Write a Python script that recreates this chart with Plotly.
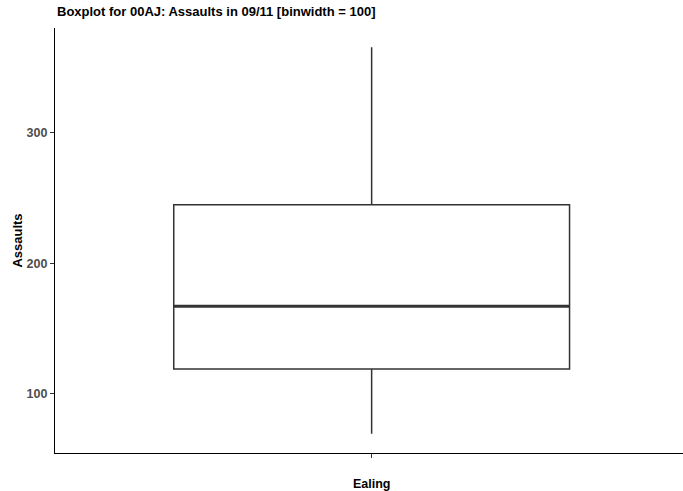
import plotly.graph_objects as go

categories = ["Ealing"]
lower_whisker = [69.5]
q1_values = [119.1]
median_values = [167.2]
q3_values = [245.0]
upper_whisker = [365.6]
y_tick_values = [100, 200, 300]

x_pos = [1]
box_width = 0.75

fig = go.Figure()
fig.add_trace(go.Box(
    x=x_pos,
    q1=q1_values, median=median_values, q3=q3_values,
    lowerfence=lower_whisker, upperfence=upper_whisker,
    width=box_width,
    fillcolor="white",
    line=dict(color="#333333", width=1.5),
    whiskerwidth=0,
    boxpoints=False,
    hoverinfo="skip",
    showlegend=False,
))
# thicker median line (ggplot fatten)
for xp, m in zip(x_pos, median_values):
    fig.add_trace(go.Scatter(
        x=[xp - box_width / 2, xp + box_width / 2], y=[m, m],
        mode="lines", line=dict(color="#333333", width=3),
        hoverinfo="skip", showlegend=False,
    ))

font_family = "Liberation Sans, Arial, sans-serif"
fig.update_layout(
    width=683, height=491,
    paper_bgcolor="white", plot_bgcolor="white",
    margin=dict(l=55, r=0, t=28, b=38, autoexpand=False),
    title=dict(text="<b>Boxplot for 00AJ: Assaults in 09/11 [binwidth = 100]</b>",
               x=57/683, xanchor="left", y=1 - 11/491, yanchor="middle",
               font=dict(family=font_family, size=13, color="black")),
    font=dict(family=font_family),
)
fig.update_xaxes(
    range=[0.4, 1.59], tickvals=x_pos, ticktext=[f"<b>{c}</b>" for c in categories],
    showline=True, linecolor="black", linewidth=1.2,
    ticks="outside", ticklen=4, tickcolor="#333333", tickwidth=1,
    showgrid=False, zeroline=False, automargin=False,
    tickfont=dict(family=font_family, size=12.5, color="black"),
    ticklabelstandoff=15,
    title=None,
)
fig.update_yaxes(
    range=[54.7, 380.4], tickvals=y_tick_values,
    ticktext=[f"<b>{v}</b>" for v in y_tick_values],
    showline=True, linecolor="black", linewidth=1.2,
    ticks="outside", ticklen=4, tickcolor="#333333", tickwidth=1,
    showgrid=False, zeroline=False, automargin=False,
    tickfont=dict(family=font_family, size=12.5, color="#4D4D4D"),
    title=dict(text="<b>Assaults</b>", font=dict(family=font_family, size=13, color="black"), standoff=0),
)
fig.write_html("out.html", config={"displayModeBar": False},
               post_script="document.body.style.margin='0';document.body.style.overflow='hidden';")
